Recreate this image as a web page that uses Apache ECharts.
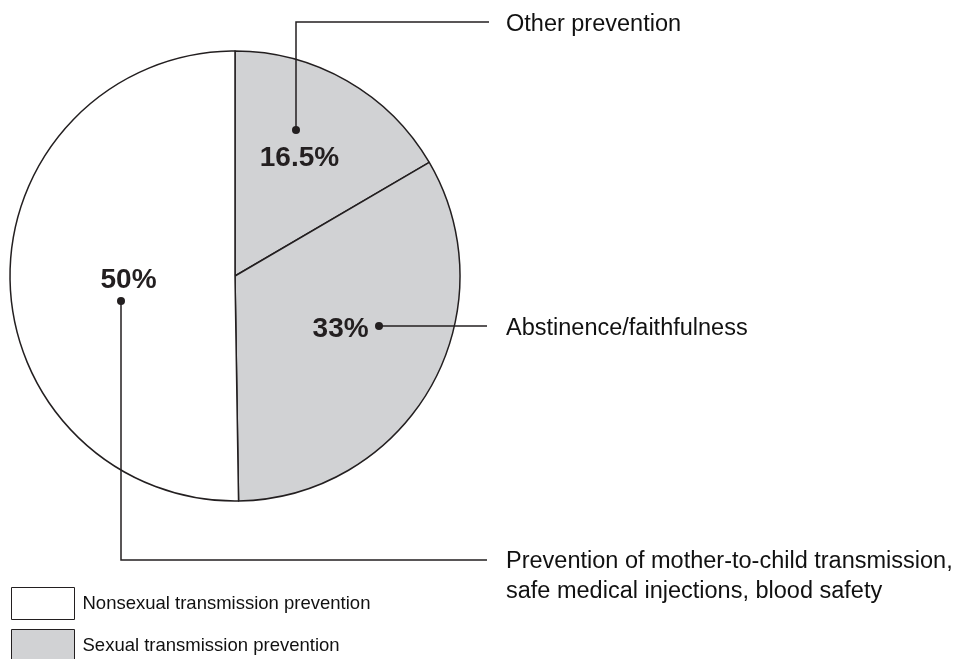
<!DOCTYPE html>
<html>
<head>
<meta charset="utf-8">
<script src="https://cdn.jsdelivr.net/npm/echarts@6/dist/echarts.min.js"></script>
<style>
html,body{margin:0;padding:0;background:#fff;}
#main{width:961px;height:659px;}
</style>
</head>
<body>
<div id="main"></div>
<script>
// slices, clockwise from the top
var sliceNames = ['Other prevention', 'Abstinence/faithfulness', 'Prevention of mother-to-child transmission,\nsafe medical injections, blood safety'];
var sliceGroups = ['Sexual transmission prevention', 'Sexual transmission prevention', 'Nonsexual transmission prevention'];
var sliceValues = [16.5, 33, 50];
var sliceLabels = ['16.5%', '33%', '50%'];
var groups = ['Nonsexual transmission prevention', 'Sexual transmission prevention'];
var groupColors = {'Nonsexual transmission prevention': '#ffffff', 'Sexual transmission prevention': '#d1d2d4'};

var ink = '#231f20';
var font = 'Liberation Sans, Arial, sans-serif';
var myChart = echarts.init(document.getElementById('main'));

// label offsets from the default inside position
var labelOffsets = [[7, -18], [5, -3], [9, 3]];

// leader lines: dot -> elbow -> end, text at the end
var leaders = [
	{pts: [[296, 130], [296, 22], [489, 22]], text: [506, 25]},
	{pts: [[379, 326], [487, 326]], text: [506, 329]},
	{pts: [[121, 301], [121, 560], [487, 560]], text: [506, 577]}
];

var pieData = [];
for (var i = 0; i < sliceValues.length; i++) {
	pieData.push({
		name: sliceGroups[i],
		value: sliceValues[i],
		itemStyle: {color: groupColors[sliceGroups[i]]},
		label: {offset: labelOffsets[i]}
	});
}

var graphics = [];
leaders.forEach(function (l, i) {
	graphics.push({
		type: 'polyline',
		shape: {points: l.pts},
		style: {stroke: ink, lineWidth: 1.5, fill: null},
		z: 10
	});
	graphics.push({
		type: 'circle',
		shape: {cx: l.pts[0][0], cy: l.pts[0][1], r: 4},
		style: {fill: ink},
		z: 11
	});
	graphics.push({
		type: 'text',
		x: l.text[0],
		y: l.text[1],
		style: {
			text: sliceNames[i],
			fontFamily: font,
			fontSize: 23.5,
			lineHeight: 30,
			fill: '#111',
			verticalAlign: 'middle',
			align: 'left'
		},
		z: 11
	});
});

// one legend per group so the second one is not wrapped into a new column
var legends = groups.map(function (g, i) {
	return {
		orient: 'vertical',
		left: 11,
		top: 587 + i * 42,
		padding: 0,
		itemWidth: 63,
		itemHeight: 32,
		icon: 'rect',
		data: [g],
		selectedMode: false,
		itemStyle: {borderColor: ink, borderWidth: 1},
		textStyle: {
			fontFamily: font,
			fontSize: 18.5,
			color: '#111',
			padding: [5, 0, 0, 3]
		}
	};
});

var option = {
	animation: false,
	backgroundColor: '#ffffff',
	legend: legends,
	graphic: graphics,
	series: [{
		type: 'pie',
		center: [235, 276],
		radius: 225,
		startAngle: 90,
		clockwise: true,
		silent: true,
		data: pieData,
		itemStyle: {borderColor: ink, borderWidth: 1.5},
		label: {
			show: true,
			position: 'inside',
			formatter: function (p) { return sliceLabels[p.dataIndex]; },
			fontFamily: font,
			fontWeight: 'bold',
			fontSize: 28,
			color: ink
		},
		labelLine: {show: false},
		emphasis: {disabled: true}
	}]
};
myChart.setOption(option);
</script>
</body>
</html>
